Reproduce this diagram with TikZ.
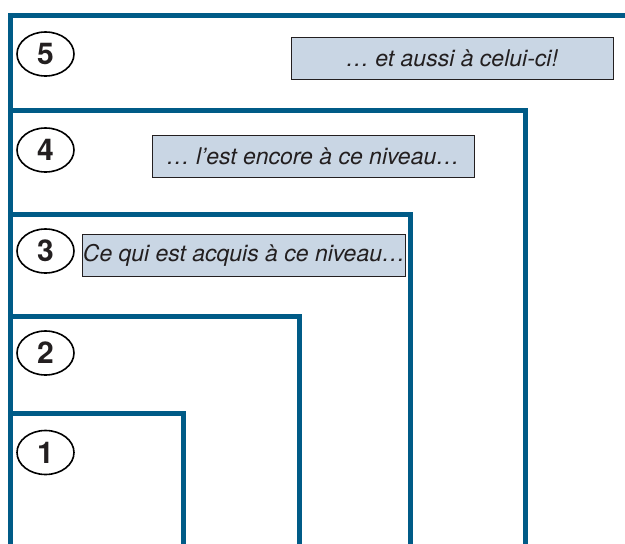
\documentclass[tikz,border=0pt]{standalone}
\usepackage{fontspec}
\setmainfont{TeX Gyre Heros}
\usepackage{xcolor}
\usepackage{tikz}
\usetikzlibrary{shapes.geometric}

\definecolor{niveaubleu}{HTML}{005B87}
\definecolor{niveaufond}{HTML}{C9D6E4}
\definecolor{niveaunoir}{HTML}{231F20}

\tikzset{
  cadre/.style={draw=niveaubleu, line width=5pt, line join=miter},
  numero/.style={ellipse, draw=black, line width=1.6pt, minimum width=57pt, minimum height=44pt,
    inner sep=0pt, text=niveaunoir, font=\fontsize{30}{32}\selectfont\bfseries},
  bulle/.style={rectangle, draw=niveaunoir, line width=1pt, fill=niveaufond, minimum width=322pt,
    minimum height=42pt, inner sep=0pt, text=niveaunoir, font=\fontsize{23}{26}\selectfont\itshape}
}

\begin{document}
\begin{tikzpicture}[x=1pt, y=-1pt]
	\useasboundingbox (0,0) rectangle (625,544);
	\clip (0,0) rectangle (625,544);
	% les cinq niveaux emboites
	\foreach \haut/\droite in {15/700, 110/525.5, 214.5/410.5, 316.5/299.5, 413.5/183.5}
	  \draw[cadre] (10.5,570) -- (10.5,\haut) -- (\droite,\haut) -- (\droite,570);
	% numeros
	\node[numero] (n5) at (45.5,54) {5};%
	\node[numero] (n4) at (45.5,150) {4};%
	\node[numero] (n3) at (45.5,251) {3};%
	\node[numero] (n2) at (45.5,353) {2};%
	\node[numero] (n1) at (45.5,452.5) {1};%
	% bulles de texte
	\node[bulle] (b5) at (452,58) {… et aussi à celui-ci!};%
	\node[bulle] (b4) at (313,156.5) {… l’est encore à ce niveau…};%
	\node[bulle] (b3) at (244,255) {Ce qui est acquis à ce niveau…};%
\end{tikzpicture}
\end{document}
